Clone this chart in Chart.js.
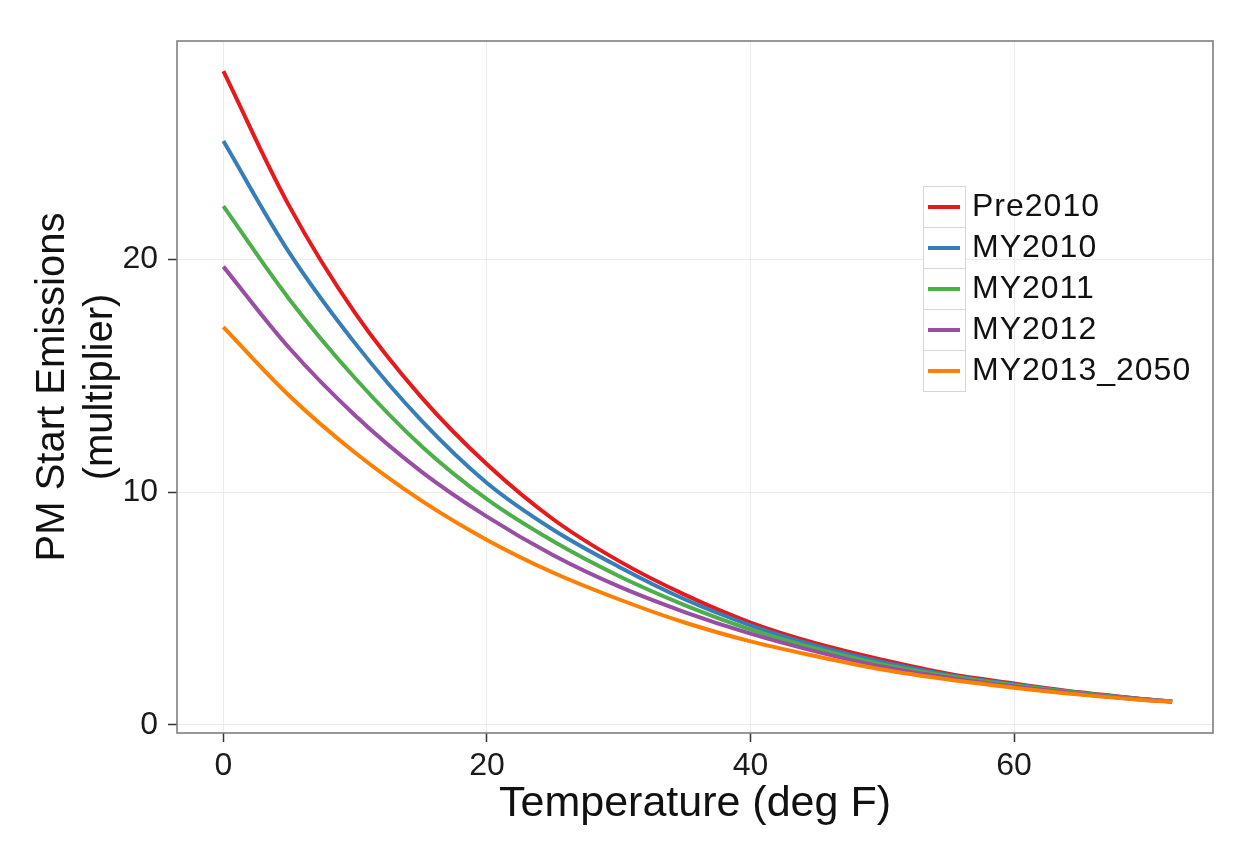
<!DOCTYPE html>
<html>
<head>
<meta charset="utf-8">
<script src="https://cdn.jsdelivr.net/npm/chart.js@4.4.1/dist/chart.umd.min.js"></script>
<style>
  html, body { margin: 0; padding: 0; background: #ffffff; }
  #wrap { width: 1247px; height: 843px; position: relative; }
</style>
</head>
<body>
<div id="wrap"><canvas id="c" width="1247" height="843"></canvas></div>
<script>
// ---- data ----
const temperatures = [0, 5, 10, 15, 20, 25, 30, 35, 40, 45, 50, 55, 60, 65, 70, 72];
const seriesNames = ["Pre2010", "MY2010", "MY2011", "MY2012", "MY2013_2050"];
const pre2010     = [28.1, 22.3, 17.7, 14.1, 11.2, 8.85, 7.05, 5.6, 4.4, 3.5, 2.8, 2.2, 1.78, 1.4, 1.1, 1.0];
const my2010      = [25.1, 20.3, 16.4, 13.1, 10.4, 8.4, 6.8, 5.4, 4.28, 3.4, 2.7, 2.15, 1.74, 1.38, 1.1, 1.0];
const my2011      = [22.3, 18.3, 14.9, 12.0, 9.7, 7.9, 6.4, 5.15, 4.1, 3.27, 2.6, 2.1, 1.7, 1.36, 1.08, 1.0];
const my2012      = [19.7, 16.2, 13.3, 10.9, 8.95, 7.3, 5.95, 4.85, 3.92, 3.15, 2.5, 2.03, 1.65, 1.33, 1.07, 1.0];
const my2013_2050 = [17.1, 14.15, 11.7, 9.65, 7.95, 6.55, 5.4, 4.4, 3.59, 2.95, 2.38, 1.95, 1.6, 1.3, 1.06, 1.0];
const xTicks = [0, 20, 40, 60];
const yTicks = [0, 10, 20];
const xTitle = "Temperature (deg F)";
const yTitle = ["PM Start Emissions", "(multiplier)"];

const seriesValues = [pre2010, my2010, my2011, my2012, my2013_2050];
const seriesColors = ["#e41a1c", "#377eb8", "#4daf4a", "#984ea3", "#ff7f00"];

const FONT = "'Liberation Sans', Arial, Helvetica, sans-serif";

const datasets = seriesNames.map((name, i) => ({
  label: name,
  data: temperatures.map((t, j) => ({ x: t, y: seriesValues[i][j] })),
  borderColor: seriesColors[i],
  backgroundColor: seriesColors[i],
  borderWidth: 4,
  pointRadius: 0,
  fill: false,
  tension: 0.35,
  order: seriesNames.length - i
}));

const panelPlugin = {
  id: 'panel',
  afterDatasetsDraw(chart) {
    const a = chart.chartArea, ctx = chart.ctx;
    ctx.save();
    ctx.strokeStyle = '#7f7f7f';
    ctx.lineWidth = 1.6;
    ctx.strokeRect(a.left, a.top, a.right - a.left, a.bottom - a.top);
    ctx.restore();
  }
};

const legendPlugin = {
  id: 'ggLegend',
  afterDraw(chart) {
    const ctx = chart.ctx;
    const x0 = 923, y0 = 186, w = 42, h = 41;
    ctx.save();
    chart.data.datasets.forEach((ds, i) => {
      const y = y0 + i * h;
      ctx.fillStyle = '#ffffff';
      ctx.fillRect(x0, y, w, h);
      ctx.strokeStyle = '#d6d6d6';
      ctx.lineWidth = 1;
      ctx.strokeRect(x0 + 0.5, y + 0.5, w, h);
      ctx.strokeStyle = ds.borderColor;
      ctx.lineWidth = 4;
      ctx.beginPath();
      ctx.moveTo(x0 + 5, y + h / 2 + 0.5);
      ctx.lineTo(x0 + w - 5, y + h / 2 + 0.5);
      ctx.stroke();
      ctx.fillStyle = '#111111';
      ctx.font = "32px " + FONT;
      if ('letterSpacing' in ctx) ctx.letterSpacing = '1px';
      ctx.textBaseline = 'middle';
      ctx.textAlign = 'left';
      ctx.fillText(ds.label, 972, y + h / 2 + 1);
    });
    ctx.restore();
  }
};

new Chart(document.getElementById('c'), {
  type: 'line',
  data: { datasets },
  plugins: [panelPlugin, legendPlugin],
  options: {
    responsive: false,
    animation: false,
    devicePixelRatio: 1,
    layout: { padding: { left: 0, right: 34, top: 41, bottom: 0 } },
    plugins: { legend: { display: false }, tooltip: { enabled: false } },
    scales: {
      x: {
        type: 'linear',
        min: -3.52,
        max: 75.1,
        afterBuildTicks: s => { s.ticks = xTicks.map(v => ({ value: v })); },
        afterFit: s => { s.height = 110; },
        grid: { color: '#ebebeb', lineWidth: 1, tickColor: '#333333', tickLength: 9, tickWidth: 1.5 },
        border: { display: false },
        ticks: { color: '#1a1a1a', font: { family: FONT, size: 32 }, padding: 5, maxRotation: 0 },
        title: { display: true, text: xTitle, color: '#111111', font: { family: FONT, size: 43, lineHeight: 1.2 }, padding: { top: 0, bottom: 13 } }
      },
      y: {
        type: 'linear',
        min: -0.35,
        max: 29.4,
        afterBuildTicks: s => { s.ticks = yTicks.map(v => ({ value: v })); },
        afterFit: s => { s.width = 177; },
        grid: { color: '#ebebeb', lineWidth: 1, tickColor: '#333333', tickLength: 9, tickWidth: 1.5 },
        border: { display: false },
        ticks: { color: '#1a1a1a', font: { family: FONT, size: 32 }, padding: 10 },
        title: { display: true, text: yTitle, color: '#111111', font: { family: FONT, size: 40, lineHeight: 1.2 }, padding: { top: 29, bottom: 0 } }
      }
    }
  }
});
</script>
</body>
</html>
